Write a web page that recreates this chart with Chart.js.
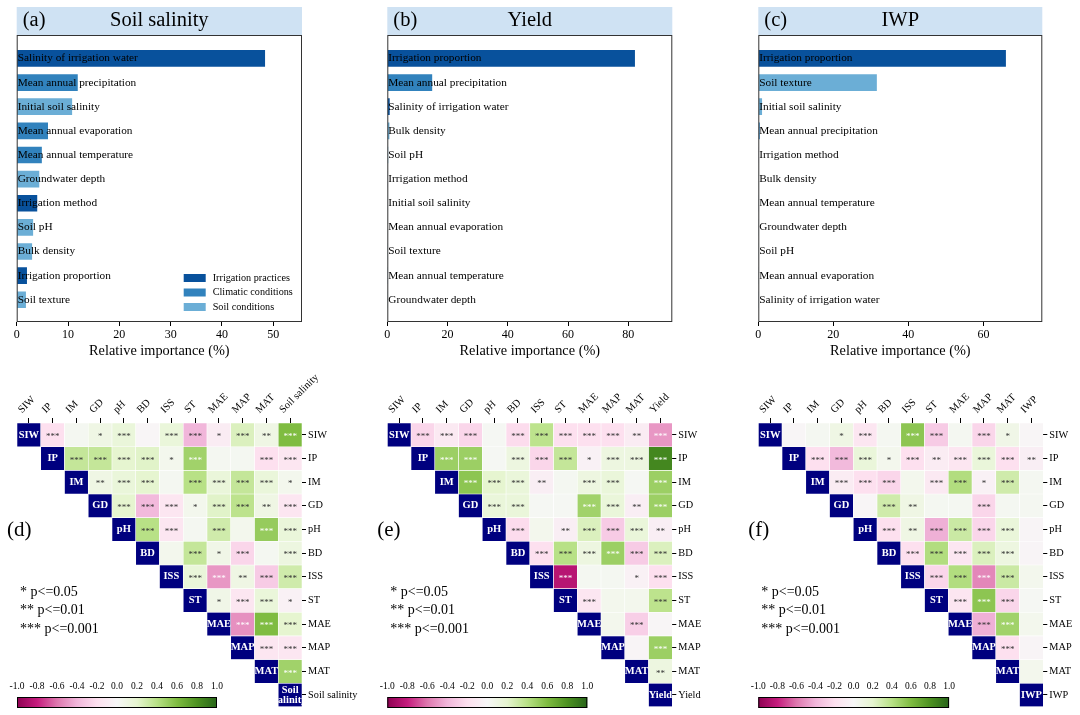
<!DOCTYPE html>
<html>
<head>
<meta charset="utf-8">
<script src="https://cdn.jsdelivr.net/npm/chart.js@4.4.0/dist/chart.umd.min.js"></script>
<style>
  body { margin: 0; background: #fff; }
  #wrap { position: relative; width: 1080px; height: 715px; overflow: hidden; background: #fff; }
  canvas { position: absolute; }
</style>
</head>
<body>
<div id="wrap"></div>
<script>
const FONT = "'Liberation Serif', 'Times New Roman', serif"
Chart.defaults.font.family = FONT
Chart.defaults.color = '#000'

// groups of factors
const groupNames = ['Irrigation practices', 'Climatic conditions', 'Soil conditions']
const groupColors = ['#08519c', '#3182bd', '#6baed6']
const factorNames = ['Salinity of irrigation water', 'Irrigation proportion', 'Irrigation method',
  'Mean annual precipitation', 'Mean annual evaporation', 'Mean annual temperature',
  'Initial soil salinity', 'Groundwater depth', 'Soil pH', 'Bulk density', 'Soil texture']
const factorGroupIdx = [0, 0, 0, 1, 1, 1, 2, 2, 2, 2, 2]

// (a) soil salinity
const salinityFactors = ['Salinity of irrigation water', 'Mean annual precipitation', 'Initial soil salinity',
  'Mean annual evaporation', 'Mean annual temperature', 'Groundwater depth', 'Irrigation method',
  'Soil pH', 'Bulk density', 'Irrigation proportion', 'Soil texture']
const salinityImportance = [48.4, 11.9, 10.8, 6.1, 4.9, 4.4, 4.0, 3.2, 3.0, 2.0, 1.8]
const salinityTicks = [0, 10, 20, 30, 40, 50]

// (b) yield
const yieldFactors = ['Irrigation proportion', 'Mean annual precipitation', 'Salinity of irrigation water',
  'Bulk density', 'Soil pH', 'Irrigation method', 'Initial soil salinity', 'Mean annual evaporation',
  'Soil texture', 'Mean annual temperature', 'Groundwater depth']
const yieldImportance = [82.2, 14.9, 0.8, 0.7, 0.3, 0.2, 0.15, 0.15, 0.1, 0.1, 0.1]
const yieldTicks = [0, 20, 40, 60, 80]

// (c) IWP
const iwpFactors = ['Irrigation proportion', 'Soil texture', 'Initial soil salinity', 'Mean annual precipitation',
  'Irrigation method', 'Bulk density', 'Mean annual temperature', 'Groundwater depth', 'Soil pH',
  'Mean annual evaporation', 'Salinity of irrigation water']
const iwpImportance = [66.0, 31.6, 1.0, 0.4, 0.15, 0.15, 0.1, 0.1, 0.1, 0.1, 0.1]
const iwpTicks = [0, 20, 40, 60]

// correlation matrices: row i holds columns i+1 .. end
const corrVars = ['SIW', 'IP', 'IM', 'GD', 'pH', 'BD', 'ISS', 'ST', 'MAE', 'MAP', 'MAT']

const salinityCorr = [
  [-0.2, 0.03, 0.1, 0.15, -0.02, 0.15, -0.4, -0.1, 0.25, 0.1, 0.6],
  [0.35, 0.35, 0.2, 0.22, 0.05, 0.48, 0.03, 0.03, -0.2, -0.15],
  [0.1, 0.15, 0.2, 0.03, 0.4, 0.15, 0.35, 0.15, 0.05],
  [0.2, -0.38, -0.15, 0.05, 0.22, 0.38, 0.1, -0.15],
  [0.4, -0.15, 0.03, 0.3, 0.05, 0.52, 0.15],
  [0.05, 0.35, 0.08, -0.25, 0.03, 0.12],
  [0.15, -0.5, 0.1, -0.3, 0.3],
  [0.08, -0.15, 0.15, -0.05],
  [-0.52, 0.6, 0.2],
  [-0.15, -0.15],
  [0.48]
]
const salinityStars = [
  [3, 0, 1, 3, 0, 3, 3, 1, 3, 2, 3],
  [3, 3, 3, 3, 1, 3, 0, 0, 3, 3],
  [2, 3, 3, 0, 3, 3, 3, 3, 1],
  [3, 3, 3, 1, 3, 3, 2, 3],
  [3, 3, 0, 3, 0, 3, 3],
  [0, 3, 1, 3, 0, 3],
  [3, 3, 2, 3, 3],
  [1, 3, 3, 1],
  [3, 3, 3],
  [3, 3],
  [3]
]

const yieldCorr = [
  [-0.25, -0.12, -0.25, 0.02, -0.22, 0.38, -0.2, -0.2, -0.2, -0.1, -0.5],
  [0.5, 0.5, 0.02, 0.12, -0.25, 0.35, -0.05, 0.12, 0.12, 0.85],
  [0.55, 0.2, 0.15, -0.08, 0.03, 0.12, 0.15, 0.02, 0.5],
  [0.15, 0.15, 0.02, 0.02, 0.48, 0.15, -0.08, 0.5],
  [-0.22, 0.05, -0.08, 0.25, -0.3, 0.15, -0.08],
  [-0.2, 0.4, 0.12, 0.5, -0.3, 0.25],
  [-0.85, 0.03, 0.03, -0.05, -0.2],
  [-0.15, 0.05, 0.05, 0.38],
  [0.05, -0.28, -0.02],
  [-0.03, 0.5],
  [0.12]
]
const yieldStars = [
  [3, 3, 3, 0, 3, 3, 3, 3, 3, 2, 3],
  [3, 3, 0, 3, 3, 3, 1, 3, 3, 3],
  [3, 3, 3, 2, 0, 3, 3, 0, 3],
  [3, 3, 0, 0, 3, 3, 2, 3],
  [3, 0, 2, 3, 3, 3, 2],
  [3, 3, 3, 3, 3, 3],
  [3, 0, 0, 1, 3],
  [3, 0, 0, 3],
  [0, 3, 0],
  [0, 3],
  [2]
]

const iwpCorr = [
  [-0.02, 0.03, 0.1, -0.15, 0.03, 0.55, -0.3, 0.03, -0.25, 0.08, -0.02],
  [-0.2, -0.38, 0.15, 0.05, -0.2, -0.1, -0.15, 0.15, -0.2, -0.08],
  [-0.1, -0.2, -0.25, 0.05, -0.12, 0.42, -0.05, 0.3, 0.03],
  [-0.02, 0.3, 0.1, 0.03, 0.03, -0.25, 0.03, 0.03],
  [-0.2, 0.1, -0.42, 0.32, -0.25, 0.15, -0.03],
  [-0.2, 0.42, -0.15, 0.25, 0.12, -0.03],
  [-0.25, 0.42, -0.55, 0.32, 0.05],
  [-0.15, 0.55, -0.25, 0.02],
  [-0.42, 0.48, 0.05],
  [-0.2, -0.03],
  [0.05]
]
const iwpStars = [
  [0, 0, 1, 3, 0, 3, 3, 0, 3, 1, 0],
  [3, 3, 3, 1, 3, 2, 3, 3, 3, 2],
  [3, 3, 3, 0, 3, 3, 1, 3, 0],
  [0, 3, 2, 0, 0, 3, 0, 0],
  [3, 2, 3, 3, 3, 3, 0],
  [3, 3, 3, 3, 3, 0],
  [3, 3, 3, 3, 0],
  [3, 3, 3, 0],
  [3, 3, 0],
  [3, 0],
  [0]
]

const colorbarTicks = [-1.0, -0.8, -0.6, -0.4, -0.2, 0.0, 0.2, 0.4, 0.6, 0.8, 1.0]
const pLegend = ['* p<=0.05', '** p<=0.01', '*** p<=0.001']

// PiYG
const piyg = ['#8e0152', '#c51b7d', '#de77ae', '#f1b6da', '#fde0ef', '#f7f7f7',
  '#e6f5d0', '#b8e186', '#7fbc41', '#4d9221', '#276419']

function hexRgb(h) {
  return [1, 3, 5].map(p => parseInt(h.slice(p, p + 2), 16))
}

function corrColor(r) {
  const t = Math.max(0, Math.min(10, (r + 1) * 5))
  const k = Math.min(9, Math.floor(t))
  const f = t - k
  const c0 = hexRgb(piyg[k])
  const c1 = hexRgb(piyg[k + 1])
  const c = c0.map((v, n) => Math.round(v + (c1[n] - v) * f))
  return 'rgb(' + c.join(',') + ')'
}

function addCanvas(left, top, w, h) {
  const c = document.createElement('canvas')
  c.width = w
  c.height = h
  c.style.left = left + 'px'
  c.style.top = top + 'px'
  c.style.width = w + 'px'
  c.style.height = h + 'px'
  document.getElementById('wrap').appendChild(c)
  return c
}

// ---------- top row: relative importance ----------
function makeImportance(left, width, plotL, plotR, tag, title, factors, values, xMax, xTicks, showLegend) {
  const cv = addCanvas(left, 0, width, 365)

  const deco = {
    id: 'deco' + tag,
    afterDraw(chart) {
      const { ctx, chartArea: a } = chart
      ctx.save()
      ctx.fillStyle = '#cfe2f3'
      ctx.fillRect(a.left, 7, a.right - a.left, a.top - 7)
      ctx.fillStyle = '#000'
      ctx.font = '20.5px ' + FONT
      ctx.textBaseline = 'middle'
      ctx.textAlign = 'left'
      ctx.fillText(tag, a.left + 6, 21)
      ctx.textAlign = 'center'
      ctx.fillText(title, (a.left + a.right) / 2, 21)
      ctx.strokeStyle = '#333'
      ctx.lineWidth = 1
      ctx.strokeRect(a.left + 0.5, a.top + 0.5, a.right - a.left - 1, a.bottom - a.top - 1)

      if (showLegend) {
        ctx.font = '10.2px ' + FONT
        ctx.textAlign = 'left'
        groupNames.forEach((g, k) => {
          const y = a.bottom - 44 + k * 14.5
          ctx.fillStyle = groupColors[k]
          ctx.fillRect(a.left + 167, y - 4, 22, 8)
          ctx.fillStyle = '#000'
          ctx.fillText(g, a.left + 196, y)
        })
      }
      ctx.restore()
    }
  }

  return new Chart(cv, {
    type: 'bar',
    data: {
      datasets: [{
        data: values.map((v, i) => ({ x: v, y: i })),
        backgroundColor: factors.map(f => groupColors[factorGroupIdx[factorNames.indexOf(f)]]),
        barPercentage: 0.69,
        categoryPercentage: 1
      }]
    },
    options: {
      indexAxis: 'y',
      responsive: false,
      animation: false,
      events: [],
      layout: { padding: { left: plotL - left, right: left + width - plotR, top: 35, bottom: 5 } },
      scales: {
        x: {
          type: 'linear',
          min: 0,
          max: xMax,
          afterBuildTicks: ax => { ax.ticks = xTicks.map(v => ({ value: v })) },
          afterFit: ax => { ax.height = 38 },
          grid: { drawOnChartArea: false, drawTicks: true, tickLength: 4, color: '#000' },
          border: { display: false },
          ticks: { font: { size: 12 }, color: '#000', padding: 2, maxRotation: 0, autoSkip: false },
          title: { display: true, text: 'Relative importance (%)', font: { size: 14.3 }, color: '#000', padding: 0 }
        },
        y: {
          type: 'linear',
          reverse: true,
          offset: false,
          min: -0.97,
          max: factors.length - 1 + 0.92,
          afterBuildTicks: ax => { ax.ticks = factors.map((f, i) => ({ value: i })) },
          afterFit: ax => { ax.width = 0 },
          grid: { display: false, offset: false },
          border: { display: false },
          ticks: {
            z: 1,
            mirror: true,
            padding: 1,
            autoSkip: false,
            font: { size: 11.3 },
            color: '#000',
            callback: (v, i) => factors[i]
          }
        }
      },
      plugins: { legend: { display: false }, tooltip: { enabled: false } }
    },
    plugins: [deco]
  })
}

makeImportance(0, 360, 16.7, 302, '(a)', 'Soil salinity', salinityFactors, salinityImportance, 55.6, salinityTicks, true)
makeImportance(370, 360, 387.3, 672.3, '(b)', 'Yield', yieldFactors, yieldImportance, 94.6, yieldTicks, false)
makeImportance(730, 350, 758.3, 1042.3, '(c)', 'IWP', iwpFactors, iwpImportance, 75.7, iwpTicks, false)

// ---------- bottom row: correlation heatmaps ----------
function makeCorr(left, width, plotL, tag, target, corr, stars) {
  const vars = corrVars.concat([target])
  const n = vars.length
  const plotR = plotL + 285
  const cv = addCanvas(left, 365, width, 350)

  const text = {
    id: 'corr' + tag,
    afterDatasetsDraw(chart) {
      const ctx = chart.ctx
      ctx.save()
      ctx.textAlign = 'center'
      ctx.textBaseline = 'middle'
      chart.data.datasets.forEach((ds, i) => {
        chart.getDatasetMeta(i).data.forEach((el, j) => {
          if (j < i) return
          const p = el.getProps(['x', 'y', 'base', 'width'], true)
          const cy = (p.y + p.base) / 2
          if (j === i) {
            ctx.save()
            ctx.beginPath()
            ctx.rect(p.x - p.width / 2, Math.min(p.y, p.base), p.width, Math.abs(p.base - p.y))
            ctx.clip()
            ctx.fillStyle = '#fff'
            ctx.font = 'bold 10.5px ' + FONT
            const words = vars[i].split(' ')
            words.forEach((w, k) => ctx.fillText(w, p.x, cy + (k - (words.length - 1) / 2) * 10))
            ctx.restore()
          } else {
            const s = stars[i][j - i - 1]
            if (!s) return
            const r = corr[i][j - i - 1]
            ctx.fillStyle = Math.abs(r) >= 0.45 ? '#fff' : '#333'
            ctx.font = '9px ' + FONT
            ctx.fillText('*'.repeat(s), p.x, cy + 2)
          }
        })
      })
      ctx.restore()
    },
    afterDraw(chart) {
      const { ctx, chartArea: a } = chart
      ctx.save()
      ctx.fillStyle = '#000'
      ctx.textBaseline = 'middle'
      ctx.textAlign = 'left'
      ctx.font = '21px ' + FONT
      ctx.fillText(tag, a.left - 10, 165)
      ctx.font = '14px ' + FONT
      pLegend.forEach((t, k) => ctx.fillText(t, a.left + 3, 227 + k * 18.5))
      ctx.restore()
    }
  }

  const datasets = vars.map((v, i) => ({
    data: vars.map((w, j) => (j < i ? null : [i, i + 1])),
    backgroundColor: vars.map((w, j) => (j === i ? '#00007f' : (j > i ? corrColor(corr[i][j - i - 1]) : 'rgba(0,0,0,0)'))),
    borderColor: '#fff',
    borderWidth: 0.6,
    borderSkipped: false,
    grouped: false,
    barPercentage: 1,
    categoryPercentage: 1
  }))

  new Chart(cv, {
    type: 'bar',
    data: { labels: vars, datasets },
    options: {
      responsive: false,
      animation: false,
      events: [],
      layout: { padding: { left: plotL - left, right: 0, top: 0, bottom: 7.5 } },
      scales: {
        x: {
          type: 'category',
          position: 'top',
          offset: true,
          afterFit: ax => { ax.height = 58 },
          grid: { drawOnChartArea: false, offset: false, tickLength: 5, color: '#000' },
          border: { display: false },
          ticks: { minRotation: 45, maxRotation: 45, autoSkip: false, font: { size: 10.5 }, color: '#000', padding: 2 }
        },
        y: {
          type: 'linear',
          position: 'right',
          reverse: true,
          min: 0,
          max: n,
          afterBuildTicks: ax => { ax.ticks = vars.map((w, i) => ({ value: i + 0.5 })) },
          afterFit: ax => { ax.width = left + width - plotR },
          grid: { drawOnChartArea: false, tickLength: 4, color: '#000' },
          border: { display: false },
          ticks: { autoSkip: false, font: { size: 10.3 }, color: '#000', padding: 2, callback: (v, i) => vars[i] }
        }
      },
      plugins: { legend: { display: false }, tooltip: { enabled: false } }
    },
    plugins: [text]
  })

  // colorbar
  const cb = addCanvas(left, 672, 240, 40)
  const fill = {
    id: 'cb' + tag,
    afterDraw(chart) {
      const { ctx, chartArea: a } = chart
      const g = ctx.createLinearGradient(a.left, 0, a.right, 0)
      piyg.forEach((c, k) => g.addColorStop(k / (piyg.length - 1), c))
      ctx.save()
      ctx.fillStyle = g
      ctx.fillRect(a.left, a.top, a.right - a.left, a.bottom - a.top)
      ctx.strokeStyle = '#000'
      ctx.lineWidth = 1
      ctx.strokeRect(a.left + 0.5, a.top + 0.5, a.right - a.left - 1, a.bottom - a.top - 1)
      ctx.restore()
    }
  }
  new Chart(cb, {
    type: 'scatter',
    data: { datasets: [] },
    options: {
      responsive: false,
      animation: false,
      events: [],
      layout: { padding: { left: plotL - left, right: 240 - (plotL - left) - 200, top: 0, bottom: 4 } },
      scales: {
        x: {
          type: 'linear',
          position: 'top',
          min: -1,
          max: 1,
          afterBuildTicks: ax => { ax.ticks = colorbarTicks.map(v => ({ value: v })) },
          afterFit: ax => { ax.height = 25 },
          grid: { drawOnChartArea: false, drawTicks: false },
          border: { display: false },
          ticks: { autoSkip: false, maxRotation: 0, padding: 5, font: { size: 9.5 }, color: '#000', callback: v => v.toFixed(1) }
        },
        y: { display: false, min: 0, max: 1 }
      },
      plugins: { legend: { display: false }, tooltip: { enabled: false } }
    },
    plugins: [fill]
  })
}

makeCorr(0, 360, 17, '(d)', 'Soil salinity', salinityCorr, salinityStars)
makeCorr(370, 360, 387.3, '(e)', 'Yield', yieldCorr, yieldStars)
makeCorr(720, 360, 758.3, '(f)', 'IWP', iwpCorr, iwpStars)
</script>
</body>
</html>
